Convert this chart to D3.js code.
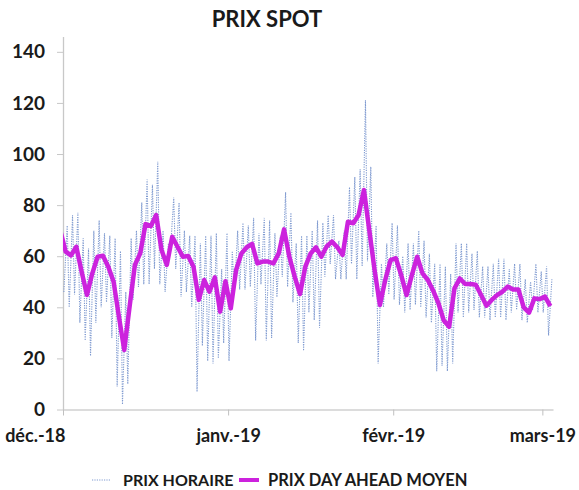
<!DOCTYPE html>
<html>
  <head>
    <meta charset="utf-8">
    <title>Prix spot</title>
    <script src="https://d3js.org/d3.v7.min.js"></script>
    <style>
      body { margin: 0; background: #fff; }
      text { font-family: Lato, "Open Sans", sans-serif; font-weight: bold; fill: #1a1a1a; }
    </style>
  </head>
  <body>
    <div id="chart"></div>
    <script>
      // daily average (noon points), starting 30 Nov 2018
      var avgStart = Date.UTC(2018, 10, 30);
      var dailyAvg = [70,
        61.8, 60.3, 63.7, 53.9, 44.8, 53.3, 59.8, 60.2, 55.9, 50,
        36.3, 23.3, 40.2, 56.6, 61.1, 72.6, 71.8, 76.1, 62.4, 56.6,
        67.6, 63.7, 59.8, 60.1, 55.9, 42.9, 50.7, 46.1, 51.7, 38.3,
        50.2, 39.6, 54.6, 61.1, 63.5, 64.8, 57.2, 57.9, 57.9, 57.2,
        61.1, 70.5, 59.8, 52, 45.2, 55.9, 61.1, 63.5, 59.8, 63.8,
        65.7, 63.5, 60.5, 73.5, 72.9, 76.1, 85.9, 70.3, 54.6, 40.9,
        50.7, 58.5, 59.2, 52.6, 44.8, 52.6, 59.8, 53.3, 50.7, 46.5,
        41.5, 34.8, 32.4, 47.4, 51.3, 49.1, 49.1, 48.8, 44.8, 40.6,
        42.9, 44.8, 46.1, 48.1, 47, 47, 40, 37.9, 43.5, 43.2,
        44.2, 40.5];

      // hourly prices: daily low / high, starting 1 Dec 2018
      var hourStart = Date.UTC(2018, 11, 1);
      var hourlyHigh = [72, 76, 77, 67, 63, 70, 74, 69, 68, 67,
        62, 46, 67, 70, 81, 90, 88, 97, 70, 65,
        83, 81, 70, 68, 68, 65, 68, 68, 69, 55,
        69, 62, 70, 73, 72, 75, 69, 75, 74, 69,
        68, 85, 77, 65, 68, 68, 70, 74, 73, 76,
        76, 66, 70, 87, 91, 94, 121, 95, 72, 57,
        65, 73, 72, 60, 65, 65, 70, 66, 61, 57,
        57, 56, 53, 65, 65, 65, 61, 62, 56, 56,
        57, 59, 59, 55, 57, 57, 51, 50, 57, 54,
        56, 51];
      var hourlyLow = [46, 40, 45, 34, 27, 21, 34, 40, 42, 28,
        9, 2, 10, 43, 48, 49, 49, 55, 49, 46,
        62, 55, 44, 46, 40, 7, 25, 19, 18, 20,
        26, 19, 45, 47, 47, 48, 27, 49, 27, 28,
        44, 52, 48, 42, 26, 23, 38, 35, 32, 52,
        57, 51, 51, 51, 57, 51, 56, 58, 44, 18,
        40, 45, 43, 41, 38, 39, 41, 40, 36, 34,
        15, 17, 15, 18, 38, 36, 38, 39, 36, 36,
        35, 36, 36, 35, 38, 39, 35, 34, 39, 38,
        38, 29];

      var yTicks = [0, 20, 40, 60, 80, 100, 120, 140];
      var monthTicks = [Date.UTC(2018, 11, 1), Date.UTC(2019, 0, 1), Date.UTC(2019, 1, 1), Date.UTC(2019, 2, 1)];
      var monthLabels = ["déc.-18", "janv.-19", "févr.-19", "mars-19"];

      var DAY = 864e5, HOUR = 36e5;
      var width = 579, height = 490;
      var plotLeft = 63, plotRight = 553, plotTop = 36.5, plotBottom = 409.5;

      var svg = d3.select("#chart").append("svg")
        .attr("width", width)
        .attr("height", height);

      var x = d3.scaleUtc()
        .domain([new Date(Date.UTC(2018, 11, 1)), new Date(Date.UTC(2019, 2, 3))])
        .range([plotLeft, plotRight]);
      var y = d3.scaleLinear()
        .domain([0, 146])
        .range([plotBottom, plotTop]);

      svg.append("clipPath").attr("id", "plot")
        .append("rect")
        .attr("x", plotLeft).attr("y", 0)
        .attr("width", plotRight - plotLeft).attr("height", plotBottom);

      // title
      svg.append("text")
        .attr("x", 267).attr("y", 27)
        .attr("text-anchor", "middle")
        .style("font-size", "22px")
        .text("PRIX SPOT");

      // y axis
      var yAxis = svg.append("g")
        .attr("transform", "translate(" + plotLeft + ",0)")
        .call(d3.axisLeft(y).tickValues(yTicks).tickSize(6).tickPadding(12).tickSizeOuter(0));
      yAxis.select(".domain").attr("stroke", "#c8c8c8").attr("stroke-width", 1.3);
      yAxis.selectAll(".tick line").attr("stroke", "#c8c8c8");
      yAxis.selectAll(".tick text").style("font-size", "19px").attr("fill", "#1a1a1a");

      // hourly line
      var hourly = [];
      hourlyLow.forEach(function(lo, i) {
        hourly.push({ t: hourStart + i * DAY + 4 * HOUR, v: lo });
        hourly.push({ t: hourStart + i * DAY + 19 * HOUR, v: hourlyHigh[i] });
      });
      var line = d3.line()
        .x(function(d) { return x(new Date(d.t)); })
        .y(function(d) { return y(d.v); });
      svg.append("path")
        .datum(hourly)
        .attr("clip-path", "url(#plot)")
        .attr("fill", "none")
        .attr("stroke", "#7f9ad0")
        .attr("stroke-width", 1.1)
        .attr("stroke-dasharray", "1.2,1.2")
        .attr("d", line);

      // x axis
      var xAxis = svg.append("g")
        .attr("transform", "translate(0," + plotBottom + ")")
        .call(d3.axisBottom(x)
          .tickValues(monthTicks.map(function(t) { return new Date(t); }))
          .tickFormat(function(d, i) { return monthLabels[i]; })
          .tickSize(6).tickPadding(14).tickSizeOuter(0));
      xAxis.select(".domain").attr("stroke", "#d0d0d0").attr("stroke-width", 1.5);
      xAxis.selectAll(".tick line").attr("stroke", "#c0c0c0");
      xAxis.selectAll(".tick text").style("font-size", "18px").attr("fill", "#1a1a1a");
      xAxis.selectAll(".tick text").filter(function(d, i) { return i === 0; })
        .attr("text-anchor", "end").attr("dx", 2);

      // daily average line
      var avg = dailyAvg.map(function(v, i) { return { t: avgStart + i * DAY + 12 * HOUR, v: v }; });
      svg.append("path")
        .datum(avg)
        .attr("clip-path", "url(#plot)")
        .attr("fill", "none")
        .attr("stroke", "#cc22dd")
        .attr("stroke-width", 4.5)
        .attr("stroke-linejoin", "round")
        .attr("d", line);

      // legend
      var legend = svg.append("g").attr("transform", "translate(0,480)");
      legend.append("line")
        .attr("x1", 92).attr("x2", 110)
        .attr("stroke", "#7f9ad0").attr("stroke-dasharray", "1.2,1.2");
      legend.append("text")
        .attr("x", 123).attr("y", 5.5)
        .style("font-size", "16px")
        .text("PRIX HORAIRE");
      legend.append("line")
        .attr("x1", 239).attr("x2", 259)
        .attr("stroke", "#cc22dd").attr("stroke-width", 4);
      legend.append("text")
        .attr("x", 268).attr("y", 5.5)
        .style("font-size", "16.5px")
        .text("PRIX DAY AHEAD MOYEN");
    </script>
  </body>
</html>
